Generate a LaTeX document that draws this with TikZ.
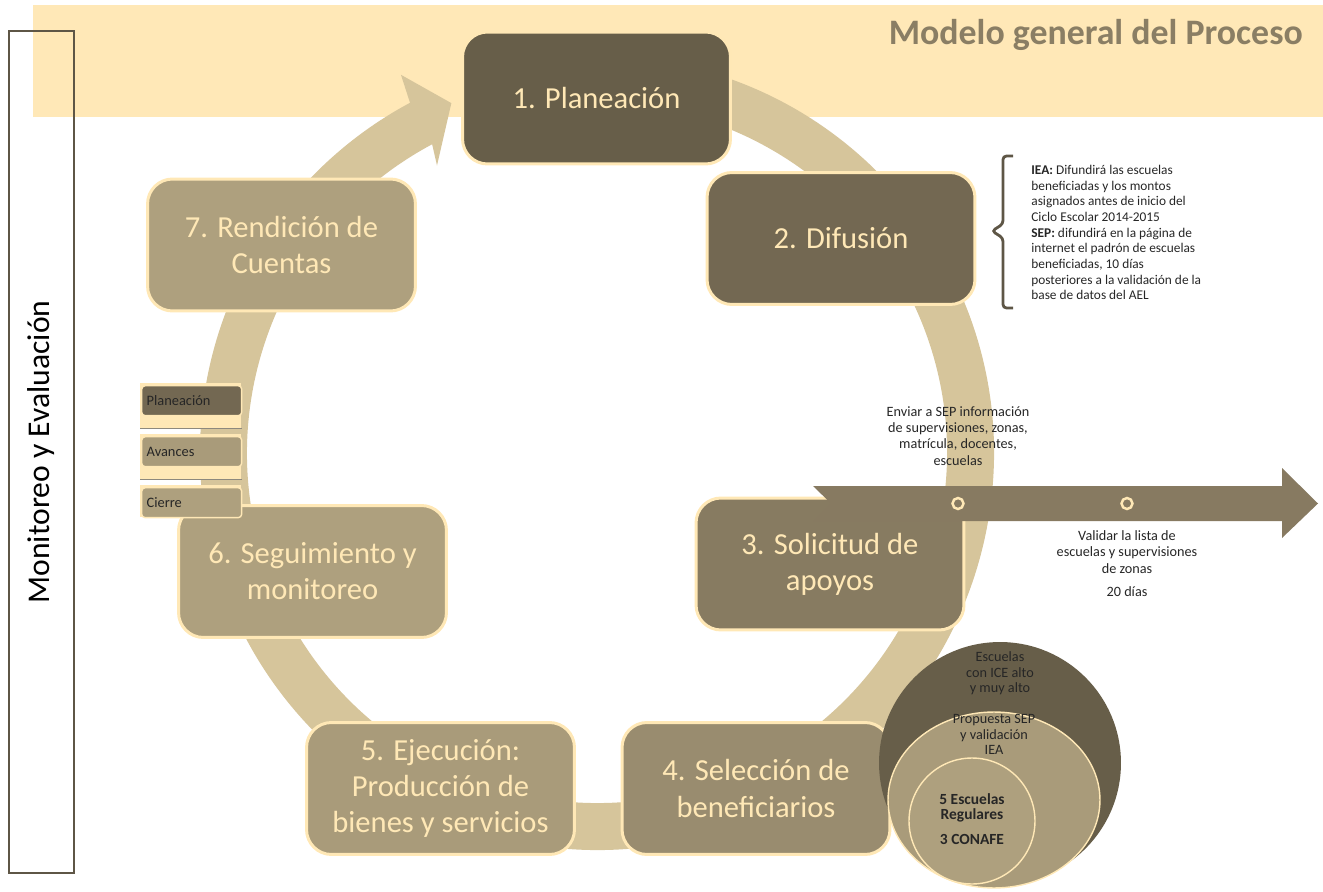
\documentclass[tikz,border=0pt]{standalone}
\usepackage{fontspec}
\setmainfont{Carlito}
\usetikzlibrary{positioning, calc, shapes.geometric}

\definecolor{band}{HTML}{FFE8B7}
\definecolor{cream}{HTML}{FFE8B6}
\definecolor{ringc}{HTML}{D6C59B}
\definecolor{sa}{HTML}{675E49}
\definecolor{sb}{HTML}{736852}
\definecolor{sc}{HTML}{877B61}
\definecolor{sd}{HTML}{998C6F}
\definecolor{se}{HTML}{A99B7A}
\definecolor{sf}{HTML}{AEA07E}
\definecolor{tline}{HTML}{877A61}
\definecolor{titlec}{HTML}{8A7E64}
\definecolor{inkc}{HTML}{262626}
\definecolor{bracec}{HTML}{5E5646}

\begin{document}
\begin{tikzpicture}[
  x=0.02cm, y=-0.02cm,
  stage/.style    = {draw=cream, line width=1.7pt, rounded corners=0.5cm,
                     minimum width=5.36cm, minimum height=2.64cm, align=center,
                     text=cream, inner sep=2pt,
                     font=\fontsize{17.4}{20.5}\selectfont},
  sidebox/.style  = {draw=bracec, line width=0.8pt, rotate=90,
                     minimum width=16.84cm, minimum height=1.3cm,
                     font=\fontsize{18}{21}\selectfont},
  milestone/.style= {circle, draw=cream, line width=1.4pt, fill=tline,
                     minimum size=0.22cm, inner sep=0pt},
  smallnote/.style= {align=center, text=inkc, inner sep=0pt,
                     font=\fontsize{8.1}{9.35}\selectfont},
  difnote/.style  = {align=left, text=inkc, inner sep=0pt,
                     font=\fontsize{7.6}{8.9}\selectfont},
  circtext/.style = {align=center, text=inkc, inner sep=0pt,
                     font=\fontsize{8.1}{8.8}\selectfont},
  shelf/.style    = {fill=cream, minimum width=2.02cm, minimum height=0.9cm,
                     inner sep=0pt, anchor=north west},
  phase/.style    = {draw=cream, line width=0.8pt, rounded corners=2pt,
                     minimum width=2.0cm, minimum height=0.6cm, text width=1.8cm,
                     align=left, text=inkc, inner ysep=0pt, inner xsep=0.1cm,
                     anchor=north west, font=\fontsize{8.2}{9.5}\selectfont},
  bracket/.style  = {draw=bracec, line width=1.6pt, rounded corners=2pt}
]

\useasboundingbox (0,0) rectangle (1323,892);

%--------------------------------------------------
% title band
%--------------------------------------------------
\fill[band] (33,5) rectangle (1323,117);
\node[anchor=east, text=titlec, font=\fontsize{20.4}{24}\selectfont\bfseries]
  (t_title) at (1309,35) {Modelo general del Proceso};

% side frame
\node[sidebox] (monitor) at (41.5,452) {Monitoreo y Evaluación};

%--------------------------------------------------
% ring arrow behind the stages
%--------------------------------------------------
\coordinate (ctr) at (597,453);
\fill[ringc] ($(ctr)+(-80:397)$) arc[start angle=-80, end angle=241.9, radius=397]
  -- ($(ctr)+(242.6:426)$) -- ($(ctr)+(247.4:379)$) -- ($(ctr)+(240.9:329)$)
  -- ($(ctr)+(241.9:350)$) arc[start angle=241.9, end angle=-80, radius=350]
  -- cycle;

%--------------------------------------------------
% stages (blocks)
%--------------------------------------------------
\node[stage, fill=sa] (planea)  at (596.5,98)  {1. Planeación};
\node[stage, fill=sb] (difus)   at (841,238.5) {2. Difusión};
\node[stage, fill=sc] (solic)   at (830,564) {3. Solicitud de\\apoyos};
\node[stage, fill=sd] (selec)   at (756,788.5) {4. Selección de\\beneficiarios};
\node[stage, fill=se] (ejecu)   at (440.5,788.5) {5. Ejecución:\\Producción de\\bienes y servicios};
\node[stage, fill=sf] (segui)   at (312.5,571.5) {6. Seguimiento y\\monitoreo};
\node[stage, fill=sf] (rendi)   at (281.5,245) {7. Rendición de\\Cuentas};

%--------------------------------------------------
% Difusion note with bracket
%--------------------------------------------------
\node[difnote, anchor=north west] (t_dif) at (1031,165)
  {\textbf{IEA:} Difundirá las escuelas\\
   beneficiadas y los montos\\
   asignados antes de inicio del\\
   Ciclo Escolar 2014-2015\\
   \textbf{SEP:} difundirá en la página de\\
   internet el padrón de escuelas\\
   beneficiadas, 10 días\\
   posteriores a la validación de la\\
   base de datos del AEL};
\draw[bracket] (1013,156) -- (1003,156) -- (1003,224) -- (992,231)
  -- (1003,238) -- (1003,308) -- (1013,308);

%--------------------------------------------------
% timeline of Solicitud de apoyos
%--------------------------------------------------
\fill[tline] (813,486) -- (1282,486) -- (1282,468) -- (1318,503.5) -- (1282,538)
  -- (1282,521) -- (813,521) -- (831,503.5) -- cycle;
\node[milestone] (m_send)  at (958,503.5) {};
\node[milestone] (m_valid) at (1127,503.5) {};

\node[smallnote, above=0.62cm of m_send] (t_send)
  {Enviar a SEP información\\de supervisiones, zonas,\\matrícula, docentes,\\escuelas};
\node[smallnote, below=0.4cm of m_valid] (t_valid)
  {Validar la lista de\\escuelas y supervisiones\\de zonas\\[4pt]20 días};

%--------------------------------------------------
% nested selection circles
%--------------------------------------------------
\node[circle, fill=sa, minimum size=4.84cm, inner sep=0pt] (c_all) at (1000,763) {};
\node[ellipse, fill=se, draw=cream, line width=0.8pt, minimum width=4.24cm,
      minimum height=3.52cm, inner sep=0pt] (c_prop) at (994,800) {};
\node[circle, fill=sf, draw=cream, line width=0.8pt, minimum size=2.52cm,
      inner sep=0pt] (c_reg) at (972,821) {};

\node[circtext, anchor=north] (t_all) at ([yshift=-0.2cm]c_all.north)
  {Escuelas\\con ICE alto\\y muy alto};
\node[circtext, anchor=north] (t_prop) at ([yshift=-0.06cm]c_prop.north)
  {Propuesta SEP\\y validación\\IEA};
\node[circtext, font=\fontsize{8.8}{9}\selectfont\bfseries] (t_reg) at (972,819)
  {5 Escuelas\\Regulares\\[5pt]3 CONAFE};

%--------------------------------------------------
% monitoring phases
%--------------------------------------------------
\node[shelf] (sh_plan) at (140,383) {};
\node[phase, fill=sb] (p_plan) at (141,385) {Planeación};
\draw[bracec!70, line width=0.6pt] (sh_plan.south west) -- (sh_plan.south east);

\node[shelf] (sh_avan) at (140,434) {};
\node[phase, fill=se] (p_avan) at (141,436) {Avances};
\draw[bracec!70, line width=0.6pt] (sh_avan.south west) -- (sh_avan.south east);

\node[shelf, minimum height=0.64cm] (sh_cier) at (140,485) {};
\node[phase, fill=sf] (p_cier) at (141,487) {Cierre};

\end{tikzpicture}
\end{document}
